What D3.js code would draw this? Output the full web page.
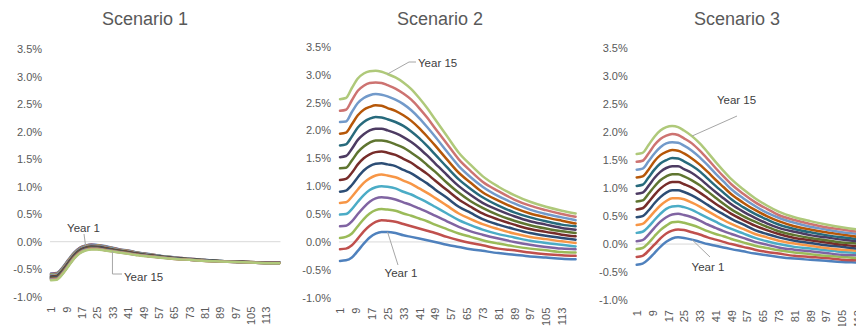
<!DOCTYPE html>
<html>
<head>
<meta charset="utf-8">
<script src="https://cdn.jsdelivr.net/npm/d3@7"></script>
<style>
  html, body { margin: 0; padding: 0; background: #ffffff; }
  svg { display: block; font-family: "Liberation Sans", Arial, sans-serif; }
</style>
</head>
<body>
<svg id="chart" width="856" height="326"></svg>
<script>
// ---- data -------------------------------------------------------------
// Category axis: months 1..120, labelled every 8th month
const categories = d3.range(1, 121);
const xTickLabels = [1, 9, 17, 25, 33, 41, 49, 57, 65, 73, 81, 89, 97, 105, 113];
const yTicks = [-1.0, -0.5, 0.0, 0.5, 1.0, 1.5, 2.0, 2.5, 3.0, 3.5];

// Months at which each curve's value (in %) is recorded
const sampleMonths = [1, 4, 7, 10, 13, 16, 19, 22, 25, 29, 33, 37, 41, 45, 49, 55, 61, 67, 73, 81, 89, 97, 105, 113, 120];

const seriesNames = ["Year 1", "Year 2", "Year 3", "Year 4", "Year 5", "Year 6", "Year 7", "Year 8",
                     "Year 9", "Year 10", "Year 11", "Year 12", "Year 13", "Year 14", "Year 15"];
const seriesColors = ["#4F81BD", "#C0504D", "#9BBB59", "#8064A2", "#4BACC6", "#F79646", "#2C4D75", "#772C2A",
                      "#5F7530", "#4D3B62", "#276A7C", "#B65708", "#729ACA", "#CD7371", "#AFC97A"];

const scenario1 = [
  [-0.58,-0.57,-0.47,-0.33,-0.20,-0.11,-0.07,-0.05,-0.06,-0.08,-0.11,-0.14,-0.16,-0.19,-0.21,-0.24,-0.27,-0.29,-0.31,-0.33,-0.35,-0.36,-0.37,-0.38,-0.38],
  [-0.589,-0.579,-0.479,-0.339,-0.208,-0.117,-0.076,-0.056,-0.066,-0.086,-0.115,-0.144,-0.164,-0.194,-0.214,-0.243,-0.272,-0.292,-0.311,-0.331,-0.351,-0.361,-0.371,-0.381,-0.381],
  [-0.597,-0.587,-0.487,-0.347,-0.216,-0.124,-0.083,-0.063,-0.071,-0.091,-0.120,-0.149,-0.169,-0.197,-0.217,-0.246,-0.274,-0.294,-0.313,-0.333,-0.351,-0.361,-0.371,-0.381,-0.381],
  [-0.606,-0.596,-0.496,-0.356,-0.224,-0.131,-0.089,-0.069,-0.077,-0.097,-0.125,-0.153,-0.173,-0.201,-0.221,-0.249,-0.276,-0.296,-0.314,-0.334,-0.352,-0.362,-0.372,-0.382,-0.382],
  [-0.614,-0.604,-0.504,-0.364,-0.231,-0.139,-0.096,-0.076,-0.083,-0.103,-0.130,-0.157,-0.177,-0.204,-0.224,-0.251,-0.279,-0.299,-0.316,-0.336,-0.353,-0.363,-0.373,-0.383,-0.383],
  [-0.623,-0.613,-0.513,-0.373,-0.239,-0.146,-0.102,-0.082,-0.089,-0.109,-0.135,-0.161,-0.181,-0.208,-0.228,-0.254,-0.281,-0.301,-0.317,-0.337,-0.354,-0.364,-0.374,-0.384,-0.384],
  [-0.631,-0.621,-0.521,-0.381,-0.247,-0.153,-0.109,-0.089,-0.094,-0.114,-0.140,-0.166,-0.186,-0.211,-0.231,-0.257,-0.283,-0.303,-0.319,-0.339,-0.354,-0.364,-0.374,-0.384,-0.384],
  [-0.640,-0.630,-0.530,-0.390,-0.255,-0.160,-0.115,-0.095,-0.100,-0.120,-0.145,-0.170,-0.190,-0.215,-0.235,-0.260,-0.285,-0.305,-0.320,-0.340,-0.355,-0.365,-0.375,-0.385,-0.385],
  [-0.649,-0.639,-0.539,-0.399,-0.263,-0.167,-0.121,-0.101,-0.106,-0.126,-0.150,-0.174,-0.194,-0.219,-0.239,-0.263,-0.287,-0.307,-0.321,-0.341,-0.356,-0.366,-0.376,-0.386,-0.386],
  [-0.657,-0.647,-0.547,-0.407,-0.271,-0.174,-0.128,-0.108,-0.111,-0.131,-0.155,-0.179,-0.199,-0.222,-0.242,-0.266,-0.289,-0.309,-0.323,-0.343,-0.356,-0.366,-0.376,-0.386,-0.386],
  [-0.666,-0.656,-0.556,-0.416,-0.279,-0.181,-0.134,-0.114,-0.117,-0.137,-0.160,-0.183,-0.203,-0.226,-0.246,-0.269,-0.291,-0.311,-0.324,-0.344,-0.357,-0.367,-0.377,-0.387,-0.387],
  [-0.674,-0.664,-0.564,-0.424,-0.286,-0.189,-0.141,-0.121,-0.123,-0.143,-0.165,-0.187,-0.207,-0.229,-0.249,-0.271,-0.294,-0.314,-0.326,-0.346,-0.358,-0.368,-0.378,-0.388,-0.388],
  [-0.683,-0.673,-0.573,-0.433,-0.294,-0.196,-0.147,-0.127,-0.129,-0.149,-0.170,-0.191,-0.211,-0.233,-0.253,-0.274,-0.296,-0.316,-0.327,-0.347,-0.359,-0.369,-0.379,-0.389,-0.389],
  [-0.691,-0.681,-0.581,-0.441,-0.302,-0.203,-0.154,-0.134,-0.134,-0.154,-0.175,-0.196,-0.216,-0.236,-0.256,-0.277,-0.298,-0.318,-0.329,-0.349,-0.359,-0.369,-0.379,-0.389,-0.389],
  [-0.70,-0.69,-0.59,-0.45,-0.31,-0.21,-0.16,-0.14,-0.14,-0.16,-0.18,-0.20,-0.22,-0.24,-0.26,-0.28,-0.30,-0.32,-0.33,-0.35,-0.36,-0.37,-0.38,-0.39,-0.39]
];

const scenario2 = [
  [-0.34,-0.33,-0.28,-0.16,-0.03,0.08,0.15,0.18,0.18,0.16,0.12,0.09,0.06,0.03,0.00,-0.05,-0.09,-0.13,-0.16,-0.20,-0.23,-0.26,-0.28,-0.30,-0.31],
  [-0.13,-0.12,-0.06,0.06,0.19,0.29,0.36,0.39,0.38,0.36,0.32,0.28,0.24,0.20,0.16,0.09,0.03,-0.02,-0.06,-0.12,-0.15,-0.19,-0.22,-0.24,-0.25],
  [0.07,0.09,0.15,0.28,0.41,0.51,0.57,0.59,0.58,0.56,0.51,0.47,0.42,0.37,0.31,0.23,0.15,0.09,0.03,-0.03,-0.08,-0.12,-0.15,-0.18,-0.19],
  [0.28,0.29,0.37,0.50,0.62,0.72,0.78,0.80,0.79,0.76,0.71,0.66,0.60,0.54,0.47,0.37,0.27,0.19,0.13,0.06,0.00,-0.05,-0.09,-0.12,-0.13],
  [0.49,0.50,0.59,0.72,0.84,0.93,0.98,1.00,0.99,0.96,0.90,0.85,0.78,0.71,0.63,0.51,0.39,0.30,0.22,0.14,0.08,0.02,-0.02,-0.05,-0.08],
  [0.70,0.71,0.81,0.94,1.06,1.14,1.19,1.21,1.19,1.16,1.10,1.04,0.96,0.88,0.79,0.65,0.51,0.41,0.32,0.23,0.15,0.09,0.05,0.01,-0.02],
  [0.90,0.92,1.02,1.16,1.28,1.36,1.40,1.41,1.39,1.36,1.29,1.23,1.14,1.05,0.94,0.79,0.63,0.52,0.41,0.31,0.23,0.16,0.11,0.07,0.04],
  [1.11,1.13,1.24,1.39,1.50,1.57,1.61,1.62,1.60,1.56,1.49,1.42,1.32,1.22,1.10,0.93,0.76,0.63,0.51,0.40,0.31,0.23,0.18,0.13,0.10],
  [1.32,1.33,1.46,1.61,1.71,1.78,1.82,1.82,1.80,1.75,1.69,1.60,1.50,1.38,1.26,1.06,0.88,0.73,0.61,0.48,0.38,0.30,0.24,0.19,0.16],
  [1.52,1.54,1.67,1.83,1.93,2.00,2.03,2.03,2.00,1.95,1.88,1.79,1.68,1.55,1.41,1.20,1.00,0.84,0.70,0.57,0.46,0.37,0.31,0.25,0.22],
  [1.73,1.75,1.89,2.05,2.15,2.21,2.24,2.23,2.20,2.15,2.08,1.98,1.86,1.72,1.57,1.34,1.12,0.95,0.80,0.65,0.53,0.44,0.37,0.31,0.28],
  [1.94,1.96,2.11,2.27,2.37,2.42,2.45,2.44,2.40,2.35,2.27,2.17,2.04,1.89,1.73,1.48,1.24,1.06,0.89,0.74,0.61,0.51,0.44,0.38,0.33],
  [2.15,2.16,2.33,2.49,2.58,2.63,2.65,2.64,2.61,2.55,2.47,2.36,2.22,2.06,1.89,1.62,1.36,1.16,0.99,0.82,0.69,0.58,0.50,0.44,0.39],
  [2.35,2.37,2.54,2.71,2.80,2.85,2.86,2.85,2.81,2.75,2.66,2.55,2.40,2.23,2.04,1.76,1.48,1.27,1.08,0.91,0.76,0.65,0.57,0.50,0.45],
  [2.56,2.58,2.76,2.93,3.02,3.06,3.07,3.05,3.01,2.95,2.86,2.74,2.58,2.40,2.20,1.90,1.60,1.38,1.18,0.99,0.84,0.72,0.63,0.56,0.51]
];

const scenario3 = [
  [-0.37,-0.35,-0.27,-0.16,-0.05,0.04,0.10,0.12,0.11,0.08,0.04,0.00,-0.03,-0.06,-0.09,-0.13,-0.17,-0.20,-0.23,-0.26,-0.28,-0.30,-0.32,-0.33,-0.34],
  [-0.23,-0.21,-0.12,-0.01,0.10,0.19,0.24,0.26,0.25,0.21,0.17,0.12,0.08,0.04,0.00,-0.05,-0.10,-0.14,-0.17,-0.21,-0.23,-0.25,-0.28,-0.29,-0.30],
  [-0.09,-0.07,0.02,0.14,0.25,0.33,0.39,0.40,0.38,0.34,0.29,0.23,0.18,0.14,0.09,0.03,-0.03,-0.07,-0.11,-0.15,-0.18,-0.21,-0.23,-0.25,-0.26],
  [0.05,0.07,0.17,0.29,0.40,0.48,0.53,0.54,0.52,0.48,0.42,0.35,0.29,0.23,0.18,0.11,0.04,-0.01,-0.06,-0.10,-0.13,-0.16,-0.19,-0.20,-0.22],
  [0.20,0.22,0.31,0.43,0.54,0.63,0.67,0.68,0.66,0.61,0.54,0.47,0.40,0.33,0.27,0.19,0.11,0.05,0.00,-0.05,-0.08,-0.11,-0.14,-0.16,-0.18],
  [0.34,0.36,0.46,0.58,0.69,0.77,0.82,0.82,0.80,0.74,0.67,0.59,0.51,0.43,0.36,0.27,0.18,0.12,0.06,0.01,-0.03,-0.07,-0.10,-0.12,-0.14],
  [0.48,0.50,0.60,0.73,0.84,0.92,0.96,0.96,0.93,0.87,0.79,0.70,0.61,0.53,0.45,0.35,0.25,0.18,0.12,0.06,0.02,-0.02,-0.05,-0.08,-0.10],
  [0.62,0.64,0.75,0.88,0.99,1.07,1.11,1.11,1.07,1.01,0.92,0.82,0.72,0.63,0.54,0.43,0.33,0.25,0.18,0.11,0.07,0.03,-0.01,-0.04,-0.06],
  [0.76,0.78,0.90,1.03,1.14,1.21,1.25,1.25,1.21,1.14,1.05,0.94,0.83,0.72,0.62,0.50,0.40,0.31,0.23,0.16,0.11,0.07,0.03,0.01,-0.01],
  [0.90,0.92,1.04,1.18,1.29,1.36,1.39,1.39,1.34,1.27,1.17,1.05,0.93,0.82,0.71,0.58,0.47,0.37,0.29,0.22,0.16,0.12,0.08,0.05,0.03],
  [1.04,1.06,1.19,1.33,1.44,1.50,1.54,1.53,1.48,1.40,1.30,1.17,1.04,0.92,0.80,0.66,0.54,0.44,0.35,0.27,0.21,0.16,0.12,0.09,0.07],
  [1.19,1.21,1.33,1.48,1.59,1.65,1.68,1.67,1.62,1.53,1.42,1.29,1.15,1.02,0.89,0.74,0.61,0.50,0.41,0.32,0.26,0.21,0.17,0.13,0.11],
  [1.33,1.35,1.48,1.62,1.73,1.80,1.82,1.81,1.76,1.67,1.55,1.41,1.26,1.12,0.98,0.82,0.68,0.56,0.47,0.38,0.31,0.26,0.21,0.18,0.15],
  [1.47,1.49,1.62,1.77,1.88,1.94,1.97,1.95,1.89,1.80,1.67,1.52,1.36,1.21,1.07,0.90,0.75,0.63,0.52,0.43,0.36,0.30,0.26,0.22,0.19],
  [1.61,1.63,1.77,1.92,2.03,2.09,2.11,2.09,2.03,1.93,1.80,1.64,1.47,1.31,1.16,0.98,0.82,0.69,0.58,0.48,0.41,0.35,0.30,0.26,0.23]
];

// ---- layout -------------------------------------------------------------
const panels = [
  { title: "Scenario 1", data: scenario1, xFirst: 51.0, xLast: 279.5, yTop: 49.2, yBottom: 296.7, titleX: 145,
    notes: [
      { series: 0,  at: 19, text: "Year 1",  anchor: "middle", tx: 83.5, ty: 232,   path: [[84, 234]] },
      { series: 14, at: 33, text: "Year 15", anchor: "start",  tx: 124,  ty: 281,   path: [[null, 274], [122, 274]] }
    ] },
  { title: "Scenario 2", data: scenario2, xFirst: 340.0, xLast: 575.6, yTop: 46.7, yBottom: 297.7, titleX: 440,
    notes: [
      { series: 14, at: 25, text: "Year 15", anchor: "start",  tx: 418,  ty: 67,    path: [[409, 62], [416, 62]] },
      { series: 0,  at: 25, text: "Year 1",  anchor: "middle", tx: 401,  ty: 277,   path: [[398, 265]] }
    ] },
  { title: "Scenario 3", data: scenario3, xFirst: 636.7, xLast: 871.3, yTop: 48.3, yBottom: 300.0, titleX: 737,
    notes: [
      { series: 14, at: 29, text: "Year 15", anchor: "middle", tx: 736.5, ty: 104,  path: [[737, 116]] },
      { series: 0,  at: 29, text: "Year 1",  anchor: "middle", tx: 708,   ty: 271,  path: [[710, 257]] }
    ] }
];

const textGrey = "#595959";
const svg = d3.select("#chart");

panels.forEach(p => {
  const x = d3.scalePoint().domain(categories).range([p.xFirst, p.xLast]);
  const step = x.step();
  const y = d3.scaleLinear().domain([-1.0, 3.5]).range([p.yBottom, p.yTop]);
  const g = svg.append("g");

  // title
  g.append("text")
    .attr("x", p.titleX).attr("y", 25)
    .attr("text-anchor", "middle")
    .attr("font-size", 18)
    .attr("fill", textGrey)
    .text(p.title);

  // value axis labels
  const yAxis = d3.axisLeft(y)
    .tickValues(yTicks)
    .tickSize(0)
    .tickPadding(8)
    .tickFormat(d => d.toFixed(1) + "%");
  const ya = g.append("g").attr("transform", `translate(${p.xFirst - step / 2},0)`).call(yAxis);
  ya.select(".domain").remove();
  ya.selectAll("text").attr("font-size", 11).attr("fill", textGrey).attr("font-family", null);

  // horizontal axis line at zero
  g.append("line")
    .attr("x1", p.xFirst - step / 2).attr("x2", p.xLast + step / 2)
    .attr("y1", y(0)).attr("y2", y(0))
    .attr("stroke", "#d9d9d9").attr("stroke-width", 1);

  // rotated month labels below the plot
  const xAxis = d3.axisBottom(x)
    .tickValues(xTickLabels)
    .tickSize(0)
    .tickPadding(0);
  const xa = g.append("g").attr("transform", `translate(0,${p.yBottom + 10})`).call(xAxis);
  xa.select(".domain").remove();
  xa.selectAll("text")
    .attr("font-size", 11).attr("fill", textGrey).attr("font-family", null)
    .attr("text-anchor", "end")
    .attr("transform", "rotate(-90)")
    .attr("x", 0).attr("y", 0).attr("dy", "0.35em");

  // curves
  const line = d3.line()
    .x((d, i) => x(sampleMonths[i]))
    .y(d => y(d))
    .curve(d3.curveMonotoneX);
  g.append("g").selectAll("path")
    .data(p.data)
    .join("path")
    .attr("d", line)
    .attr("fill", "none")
    .attr("stroke", (d, i) => seriesColors[i])
    .attr("stroke-width", 2.5)
    .attr("stroke-linejoin", "round")
    .attr("stroke-linecap", "round");

  // series call-outs with leader lines
  p.notes.forEach(n => {
    const idx = sampleMonths.indexOf(n.at);
    const ax = x(n.at), ay = y(p.data[n.series][idx]);
    const pts = [[ax, ay]].concat(n.path.map(q => [q[0] === null ? ax : q[0], q[1]]));
    g.append("path")
      .attr("d", d3.line()(pts))
      .attr("fill", "none")
      .attr("stroke", "#a6a6a6")
      .attr("stroke-width", 1);
    g.append("text")
      .attr("x", n.tx).attr("y", n.ty)
      .attr("text-anchor", n.anchor)
      .attr("font-size", 11.5)
      .attr("fill", "#404040")
      .text(n.text);
  });
});
</script>
</body>
</html>
